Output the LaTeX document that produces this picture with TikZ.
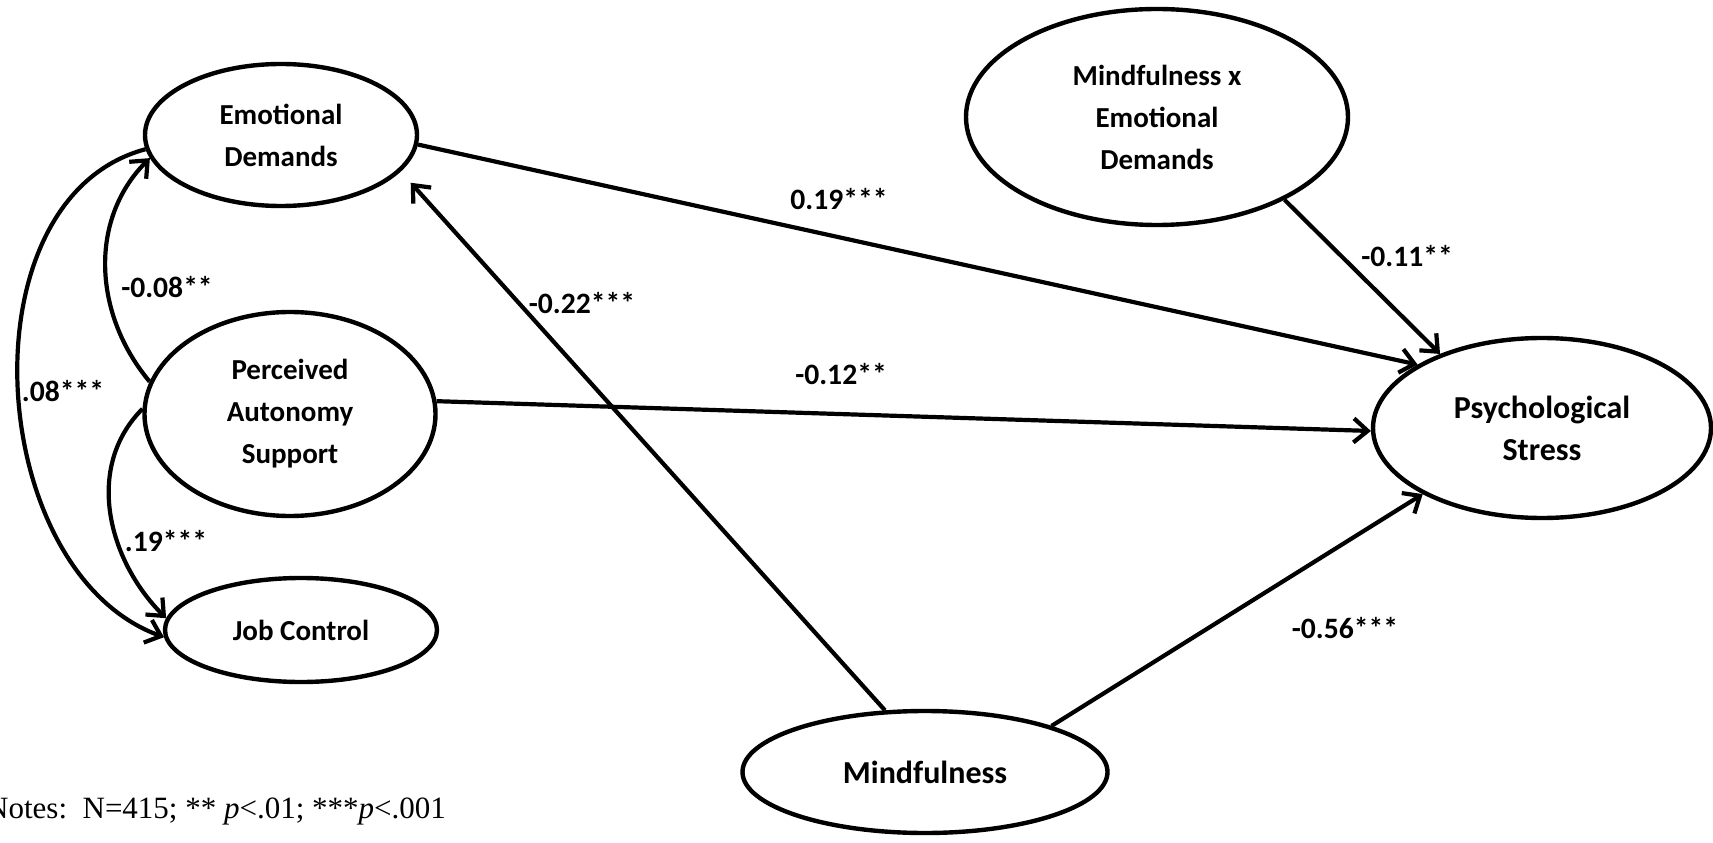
\documentclass[tikz,border=0pt]{standalone}
\usepackage{fontspec}
\setmainfont{Carlito}
\newfontfamily\notesfont{Liberation Serif}
\usetikzlibrary{arrows.meta,shapes.geometric}

\begin{document}
\begin{tikzpicture}[x=0.5pt,y=0.5pt,
  latent/.style={draw,ellipse,line width=2.2pt,inner sep=0pt,align=center,
    font=\fontsize{14.5}{21}\selectfont\bfseries},
  big/.style={font=\fontsize{16}{21}\selectfont\bfseries},
  path/.style={line width=2.1pt,-{Straight Barb[length=7pt,width=12pt]}},
  coef/.style={font=\fontsize{14.8}{17}\selectfont\bfseries}]
\useasboundingbox (0,0) rectangle (1713,842);

% latent variables
\node[latent,minimum width=136pt,minimum height=71pt] (ed) at (281,707) {Emotional\\Demands};
\node[latent,minimum width=145.5pt,minimum height=102pt] (pas) at (290,428) {Perceived\\Autonomy\\Support};
\node[latent,minimum width=136pt,minimum height=52pt] (jc) at (301,212) {Job Control};
\node[latent,minimum width=191pt,minimum height=108pt] (mxed) at (1157,725) {Mindfulness x\\Emotional\\Demands};
\node[latent,big,minimum width=169pt,minimum height=90pt] (ps) at (1542,414) {Psychological\\Stress};
\node[latent,big,minimum width=182.5pt,minimum height=61pt] (mf) at (925,70) {Mindfulness};

% paths
\draw[path] (ed.-4) -- (ps.153);
\draw[path] (mxed.-33) -- (ps.144);
\draw[path] (pas.5) -- (ps.181);
\draw[path,shorten >=7.5pt] (mf.123) -- (ed.-17);
\draw[path] (mf.20) -- (ps.209);

% covariances
\draw[path] (pas.167) to[out=130,in=225] (ed.190);
\draw[path] (pas.178) to[out=225,in=135] (jc.175);
\draw[path] (ed.186) to[out=195,in=160] (jc.183);

% coefficients
\node[coef] (b1) at (839,643) {0.19***};
\node[coef] (b2) at (1407,586) {-0.11**};
\node[coef] (b3) at (841,468) {-0.12**};
\node[coef] (b4) at (582,539) {-0.22***};
\node[coef] (b5) at (1345,214) {-0.56***};
\node[coef] (r1) at (167,555) {-0.08**};
\node[coef] (r2) at (63,451) {.08***};
\node[coef] (r3) at (166,301) {.19***};

\node[anchor=base east,font={\notesfont\fontsize{15.5}{18}\selectfont}] (notes) at (453,24)
  {Notes:\ \ N=415; ** \textit{p}<.01; ***\textit{p}<.001};
\end{tikzpicture}
\end{document}
